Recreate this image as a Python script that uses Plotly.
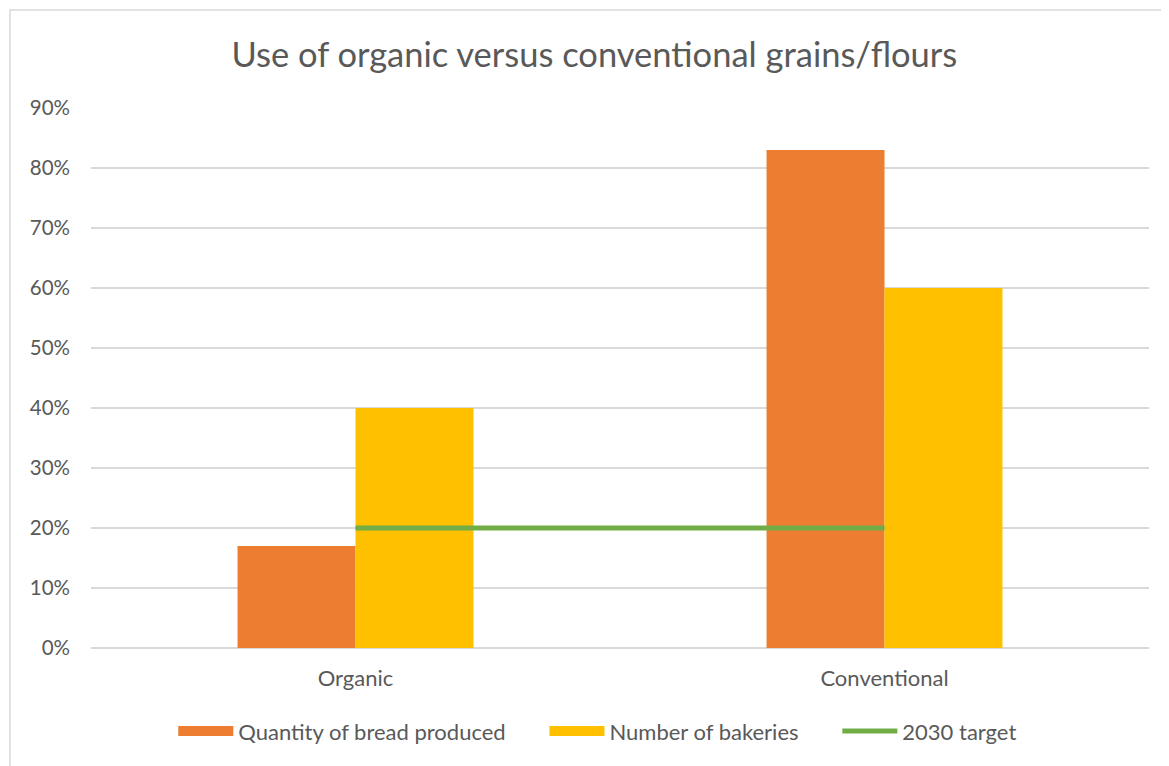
import plotly.graph_objects as go

categories = ["Organic", "Conventional"]
bread_quantity = [0.17, 0.83]
bakeries = [0.40, 0.60]
target_2030 = [0.20, 0.20]

series_names = ["Quantity of bread produced", "Number of bakeries", "2030 target"]
series_colors = ["#ED7D31", "#FFC000", "#70AD47"]

font_family = "Lato, 'Open Sans', sans-serif"
grey_text = "#595959"

fig = go.Figure()
fig.add_trace(go.Bar(x=categories, y=bread_quantity, name=series_names[0], showlegend=False,
                     marker=dict(color=series_colors[0], line=dict(width=0))))
fig.add_trace(go.Bar(x=categories, y=bakeries, name=series_names[1], showlegend=False,
                     marker=dict(color=series_colors[1], line=dict(width=0))))
fig.add_trace(go.Scatter(x=categories, y=target_2030, name=series_names[2], mode="lines",
                         showlegend=False, line=dict(color=series_colors[2], width=5)))

# legend entries (wide swatches like the original), padded to space them out
pad = "\u00a0" * 6
for i, (name, color, w) in enumerate(zip(series_names, series_colors, [14, 14, 5])):
    label = name + (pad if i < 2 else "")
    fig.add_trace(go.Scatter(x=[None], y=[None], name=label, mode="lines",
                             line=dict(color=color, width=w)))

# the page body has an 8px margin, so the figure is sized to fit the window
fig.update_layout(
    width=1161,
    height=758,
    margin=dict(l=83, r=20, t=100, b=118),
    plot_bgcolor="white",
    paper_bgcolor="white",
    font=dict(family=font_family, size=20, color=grey_text),
    title=dict(text="Use of organic versus conventional grains/flours", x=0.505, xanchor="center",
               y=1 - 47 / 758, yanchor="middle", font=dict(size=34.5, color=grey_text)),
    barmode="group",
    bargap=0.554,
    bargroupgap=0,
    legend=dict(orientation="h", x=0.479, xanchor="center", y=-0.154, yanchor="middle",
                font=dict(size=22, color=grey_text), itemwidth=55, traceorder="normal"),
    xaxis=dict(showgrid=False, showline=False, ticks="", tickfont=dict(size=22), ticklabelstandoff=15),
    yaxis=dict(range=[0, 0.9], dtick=0.1, tickformat=".0%", showgrid=True, gridcolor="#D9D9D9",
               gridwidth=1.5, zeroline=True, zerolinecolor="#D9D9D9", zerolinewidth=1.5,
               showline=False, tickfont=dict(size=20.5), ticklabelstandoff=20),
)

# chart frame
fig.add_shape(type="rect", xref="paper", yref="paper", x0=-0.0766, x1=1.05, y0=-0.4, y1=1.1815,
              line=dict(color="#D9D9D9", width=1.5), fillcolor="rgba(0,0,0,0)", layer="below")

fig.write_html("out.html")
